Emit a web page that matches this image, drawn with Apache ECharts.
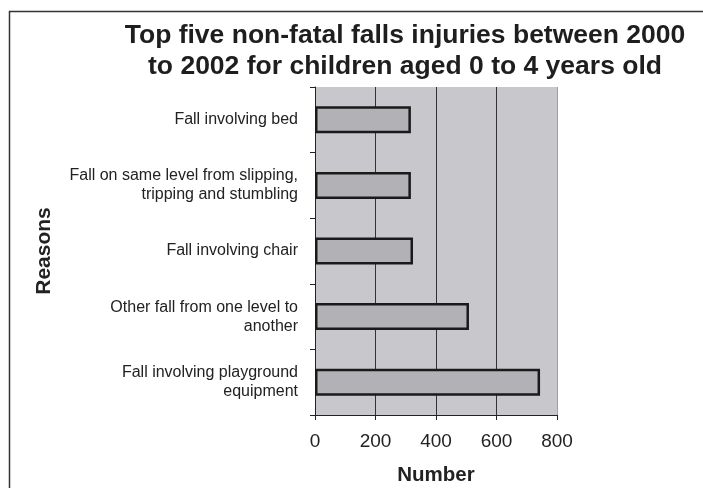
<!DOCTYPE html>
<html>
<head>
<meta charset="utf-8">
<script src="https://cdn.jsdelivr.net/npm/echarts@6/dist/echarts.min.js"></script>
<style>
  html, body { margin: 0; padding: 0; background: #fff; }
  #chart { width: 703px; height: 488px; }
</style>
</head>
<body>
<div id="chart"></div>
<script>
// top to bottom, as drawn
const reasons = [
  'Fall involving bed',
  'Fall on same level from slipping,\ntripping and stumbling',
  'Fall involving chair',
  'Other fall from one level to\nanother',
  'Fall involving playground\nequipment'
]
const injuries = [317, 317, 324, 509, 744]
const numberTicks = [0, 200, 400, 600, 800]

const font = 'Liberation Sans, Arial, sans-serif'

const chart = echarts.init(document.getElementById('chart'))
chart.setOption({
  animation: false,
  title: {
    text: 'Top five non-fatal falls injuries between 2000\nto 2002 for children aged 0 to 4 years old',
    left: 400,
    top: 15,
    textAlign: 'center',
    textStyle: {
      fontFamily: font,
      fontSize: 26.5,
      fontWeight: 'bold',
      color: '#1e1e1e',
      lineHeight: 31
    }
  },
  graphic: [{
    type: 'rect',
    shape: { x: 9.5, y: 11.5, width: 720, height: 520 },
    style: { fill: 'none', stroke: '#333', lineWidth: 1.5 },
    silent: true
  }],
  grid: {
    left: 315, right: 146, top: 87, bottom: 73,
    outerBoundsMode: 'none',
    containLabel: false,
    show: true,
    backgroundColor: '#c8c8cc',
    borderWidth: 0
  },
  xAxis: {
    type: 'value',
    min: numberTicks[0],
    max: numberTicks[numberTicks.length - 1],
    interval: 200,
    name: 'Number',
    nameLocation: 'middle',
    nameGap: 50,
    nameTextStyle: { fontFamily: font, fontSize: 20.5, fontWeight: 'bold', color: '#222' },
    axisLine: { show: true, lineStyle: { color: '#222', width: 1 } },
    axisTick: { show: true, length: 5, lineStyle: { color: '#222' } },
    axisLabel: { fontFamily: font, fontSize: 19, color: '#222', margin: 17 },
    splitLine: {
      show: true,
      lineStyle: { color: ['#222', '#333', '#333', '#333', '#a0a0a4'], width: 1 }
    }
  },
  yAxis: {
    type: 'category',
    data: reasons,
    inverse: true,
    name: 'Reasons',
    nameLocation: 'middle',
    nameGap: 260,
    nameRotate: 90,
    nameTextStyle: { fontFamily: font, fontSize: 21, fontWeight: 'bold', color: '#222' },
    axisLine: { show: true, lineStyle: { color: '#222', width: 1 } },
    axisTick: { show: true, length: 5, lineStyle: { color: '#222' } },
    axisLabel: {
      fontFamily: font, fontSize: 16, color: '#222', margin: 17,
      lineHeight: 19, align: 'right'
    },
    splitLine: { show: false }
  },
  series: [{
    type: 'bar',
    data: injuries,
    barWidth: 27,
    itemStyle: { color: '#b2b2b6', borderColor: '#1a1a1a', borderWidth: 2.5 }
  }]
})
</script>
</body>
</html>
